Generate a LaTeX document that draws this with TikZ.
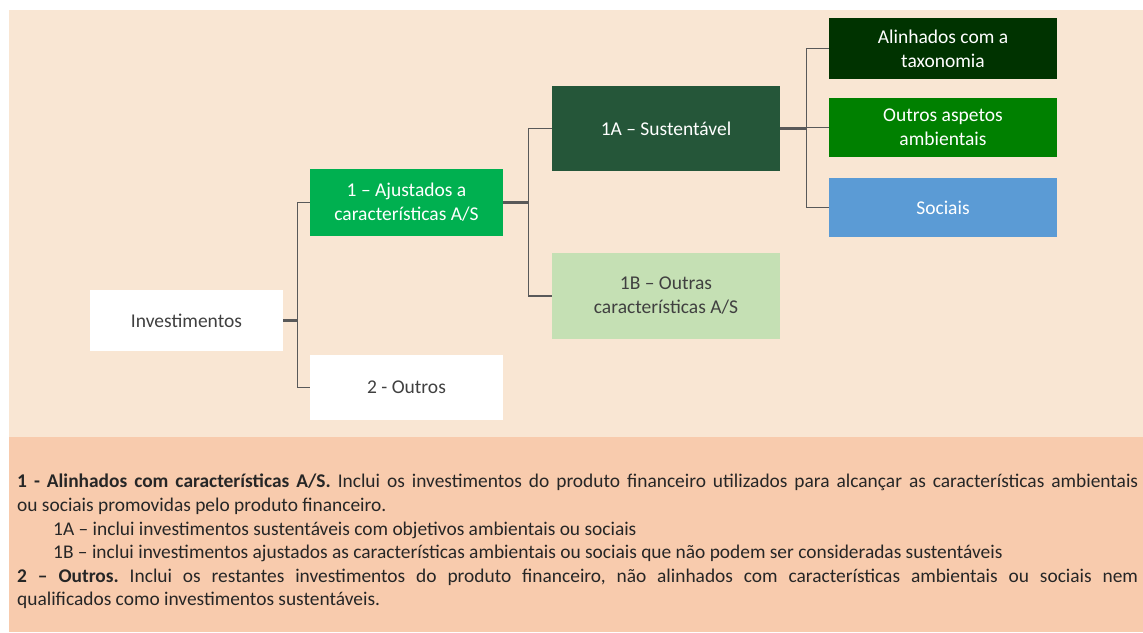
\documentclass[tikz,border=0pt]{standalone}
\usepackage{fontspec}
\setmainfont{Carlito}
\definecolor{beige}{HTML}{F9E6D3}
\definecolor{salmon}{HTML}{F8CBAD}
\definecolor{gA}{HTML}{00B050}
\definecolor{gS}{HTML}{255639}
\definecolor{gB}{HTML}{C5E0B4}
\definecolor{gT}{HTML}{003300}
\definecolor{gO}{HTML}{008000}
\definecolor{bS}{HTML}{5B9BD5}
\definecolor{ln}{HTML}{595959}
\definecolor{tx}{HTML}{404040}
\definecolor{bt}{HTML}{262626}
\begin{document}
\begin{tikzpicture}[x=1pt,y=-1pt,
  box/.style={rectangle, draw=none, inner sep=0pt, align=center,
    font=\fontsize{19.5}{24}\selectfont},
  narrow/.style={box, minimum width=193pt},
  wide/.style={box, minimum width=228pt},
  conn/.style={draw=ln, line width=1.4pt},
  stub/.style={draw=ln, line width=2.6pt}]
\useasboundingbox (0,0) rectangle (1143,632);
\fill[white] (0,0) rectangle (1143,632);
\fill[beige] (9,10) rectangle (1143,437);
\fill[salmon] (9,437) rectangle (1143,632);

\node[narrow, minimum height=61pt, fill=white, text=tx] (inv) at (186.5,320.5) {Investimentos};
\node[narrow, minimum height=67pt, fill=gA, text=white] (n1) at (406.5,202.5) {1 – Ajustados a\\características A/S};
\node[narrow, minimum height=65pt, fill=white, text=tx] (n2) at (406.5,387.5) {2 - Outros};
\node[wide, minimum height=85pt, fill=gS, text=white] (n1a) at (666,128.5) {1A – Sustentável};
\node[wide, minimum height=86pt, fill=gB, text=tx] (n1b) at (666,296) {1B – Outras\\características A/S};
\node[wide, minimum height=61pt, fill=gT, text=white] (al) at (943,48.5) {Alinhados com a\\taxonomia};
\node[wide, minimum height=59pt, fill=gO, text=white] (oa) at (943,127.5) {Outros aspetos\\ambientais};
\node[wide, minimum height=59pt, fill=bS, text=white] (so) at (943,207.5) {Sociais};

\draw[conn] (inv.east) -- ++(14,0) |- (n1.west);
\draw[conn] (inv.east) -- ++(14,0) |- (n2.west);
\draw[stub] (inv.east) -- ++(14,0);

\draw[conn] (n1.east) -- ++(25,0) |- (n1a.west);
\draw[conn] (n1.east) -- ++(25,0) |- (n1b.west);
\draw[stub] (n1.east) -- ++(25,0);

\draw[conn] (n1a.east) -- ++(26,0) |- (al.west);
\draw[conn] (n1a.east) -- ++(26,0) |- (oa.west);
\draw[conn] (n1a.east) -- ++(26,0) |- (so.west);
\draw[stub] (n1a.east) -- ++(26,0);

\node[anchor=north west, inner sep=0pt, text width=1121pt, align=justify, text=bt,
  font=\fontsize{19.4}{23.6}\selectfont] (notes) at (17,474) {%
\parindent=0pt\hyphenpenalty=10000\exhyphenpenalty=10000\frenchspacing
\textbf{1 - Alinhados com características A/S.} Inclui os investimentos do produto financeiro utilizados para alcançar as características ambientais\linebreak ou sociais promovidas pelo produto financeiro.\par
\hspace*{36pt}1A – inclui investimentos sustentáveis com objetivos ambientais ou sociais\par
\hspace*{36pt}1B – inclui investimentos ajustados as características ambientais ou sociais que não podem ser consideradas sustentáveis\par
\textbf{2 – Outros.} Inclui os restantes investimentos do produto financeiro, não alinhados com características ambientais ou sociais nem\linebreak qualificados como investimentos sustentáveis.\par};
\end{tikzpicture}
\end{document}
